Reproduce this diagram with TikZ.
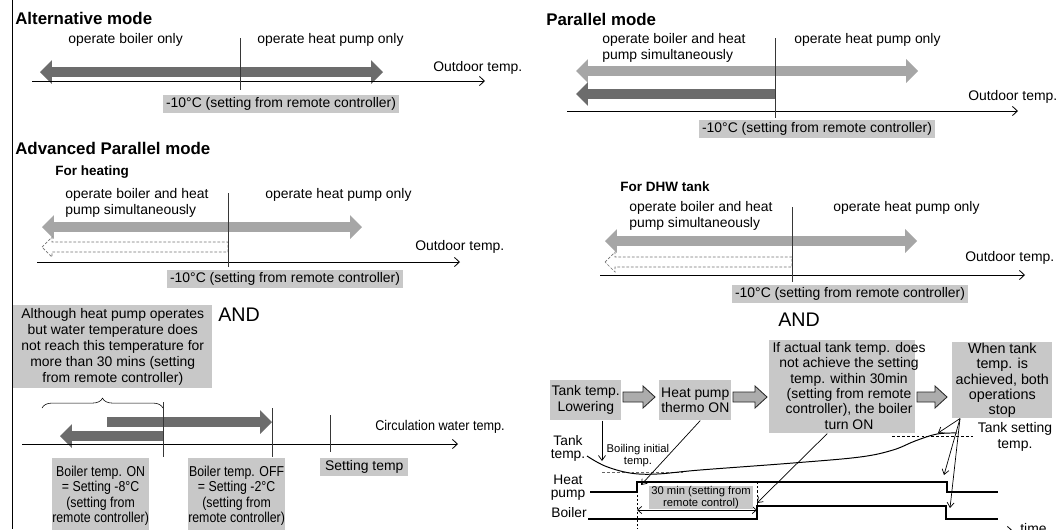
\documentclass[tikz,border=0pt]{standalone}
\usepackage{fontspec}
\setmainfont{Liberation Sans}
\newfontfamily\narrowfont[FakeStretch=0.86]{Liberation Sans}
\newfontfamily\semifont[FakeStretch=0.9]{Liberation Sans}
\usepackage{tikz}
\usetikzlibrary{arrows.meta, positioning, calc, decorations.pathreplacing}
\definecolor{tagfill}{RGB}{200,200,200}
\definecolor{bardark}{RGB}{108,108,108}
\definecolor{barlight}{RGB}{166,166,166}
\definecolor{flowfill}{RGB}{172,172,172}
\definecolor{markgray}{RGB}{55,55,55}
\newlength{\pxu}
\setlength{\pxu}{0.025cm}
\tikzset{
  txt/.style={inner sep=0pt, anchor=west, font=\fontsize{9.9}{11.3}\selectfont},
  twoline/.style={txt, align=left},
  modetitle/.style={inner sep=0pt, anchor=west, font=\bfseries\fontsize{12}{14}\selectfont},
  subtitle/.style={inner sep=0pt, anchor=west, font=\bfseries\fontsize{9.6}{11}\selectfont},
  andlabel/.style={inner sep=0pt, anchor=west, font=\fontsize{14}{16}\selectfont},
  settag/.style={fill=tagfill, anchor=north west, inner xsep=2pt, inner ysep=1.6pt,
    font=\fontsize{9.9}{11.3}\selectfont},
  notebox/.style={fill=tagfill, align=center, inner sep=0pt, anchor=north west,
    font=\fontsize{9.9}{11.3}\selectfont},
  narrowbox/.style={notebox, font=\narrowfont\fontsize{10.2}{11.1}\selectfont},
  sidelabel/.style={inner sep=0pt, align=center, font=\fontsize{9.8}{9.2}\selectfont},
  smalllabel/.style={inner sep=0pt, align=center, font=\fontsize{8}{8.5}\selectfont},
  thickbar/.style={line width=7.8pt, >={Triangle[length=8.5pt, width=17pt, line width=0pt]}},
  darkbar/.style={thickbar, draw=bardark},
  lightbar/.style={thickbar, draw=barlight},
  ghostbar/.style={draw=black!55, fill=white, line width=0.5pt, dash pattern=on 2pt off 1.2pt},
  axisline/.style={-{Straight Barb[length=3.5pt, width=6.5pt]}, line width=0.6pt},
  markline/.style={draw=markgray, line width=0.6pt},
  pointer/.style={-{Straight Barb[length=3.5pt, width=5pt]}, line width=0.5pt},
  spanarrow/.style={{Straight Barb[length=3pt, width=5pt]}-{Straight Barb[length=3pt, width=5pt]}, line width=0.5pt},
  sigline/.style={line width=0.9pt},
  levelline/.style={line width=0.6pt, dash pattern=on 2pt off 1.5pt},
  blockarrow/.style={draw=black!85, fill=flowfill, line width=0.6pt, line join=miter}
}

\begin{document}
\begin{tikzpicture}[x=\pxu, y=-\pxu]
\useasboundingbox (0,0) rectangle (1064,529);
\clip (0,0) rectangle (1064,529);

% left frame
\draw[line width=0.6pt] (12,0) -- (12,529);

% Alternative mode
\node[modetitle] (alttitle) at (15,18) {Alternative mode};
\node[txt] (altboil) at (68,40) {operate boiler only};
\node[txt] (althp) at (257,40) {operate heat pump only};
\draw[darkbar, <->] (40,72) -- (383,72);
\draw[axisline] (32,81) -- (485,81);
\node[txt] (altout) at (433,68) {Outdoor temp.};
\draw[markline] (240,38) -- (240,90);
\node[settag] (altset) at (163,95) {-10°C (setting from remote controller)};

% Parallel mode
\node[modetitle] (partitle) at (546,19) {Parallel mode};
\node[twoline] (parboth) at (602,48) {operate boiler and heat\\pump simultaneously};
\node[txt] (parhp) at (794,40) {operate heat pump only};
\draw[lightbar, <->] (576,71) -- (918,71);
\draw[darkbar, <-] (576,94) -- (775,94);
\draw[axisline] (567,111) -- (1018,111);
\node[txt] (parout) at (968,97) {Outdoor temp.};
\draw[markline] (775,38) -- (775,118);
\node[settag] (parset) at (699,120) {-10°C (setting from remote controller)};

% Advanced parallel mode, heating
\node[modetitle] (advtitle) at (15,148) {Advanced Parallel mode};
\node[subtitle] (heattitle) at (55,172) {For heating};
\node[twoline] (heatboth) at (65,203) {operate boiler and heat\\pump simultaneously};
\node[txt] (heathp) at (265,195) {operate heat pump only};
\draw[lightbar, <->] (42,227) -- (362,227);
\draw[axisline] (37,262) -- (460,262);
\node[txt] (heatout) at (415,247) {Outdoor temp.};
\node[settag] (heatset) at (167,270) {-10°C (setting from remote controller)};

% Advanced parallel mode, DHW tank
\node[subtitle] (dhwtitle) at (620,187) {For DHW tank};
\node[twoline] (dhwboth) at (629,216) {operate boiler and heat\\pump simultaneously};
\node[txt] (dhwhp) at (833,208) {operate heat pump only};
\draw[lightbar, <->] (605,241) -- (917,241);
\draw[axisline] (600,275) -- (1025,275);
\node[txt] (dhwout) at (965,258) {Outdoor temp.};
\node[settag] (dhwset) at (732,285) {-10°C (setting from remote controller)};

% dashed boiler bars
\foreach \tipx/\endx/\yy in {42/228/247, 605/792/262}
  \draw[ghostbar] (\tipx,\yy) -- ++(10,-10) -- ++(0,5) -- (\endx,\yy-5) -- (\endx,\yy+5)
    -- (\tipx+10,\yy+5) -- ++(0,5) -- cycle;
\draw[markline] (228,193) -- (228,267);
\draw[markline] (792,207) -- (792,282);

% circulation water condition
\node[andlabel] (andleft) at (218,315) {AND};
\node[notebox, minimum width=199\pxu, minimum height=83\pxu] (nowarm) at (13,305)
  {Although heat pump operates\\but water temperature does\\not reach this temperature for\\more than 30 mins (setting\\from remote controller)};
\draw[decorate, decoration={brace, amplitude=7pt}] (42,408) -- (163,408);
\draw[darkbar, ->] (107,422) -- (272,422);
\draw[darkbar, <-] (60,436) -- (163,436);
\draw[axisline] (22,444) -- (458,444);
\draw[markline] (163,402) -- (163,457);
\draw[markline] (272,408) -- (272,457);
\draw[markline] (330,415) -- (330,452);
\node[txt, font=\semifont\fontsize{10}{11}\selectfont] (circ) at (375,427) {Circulation water temp.};
\node[narrowbox, minimum width=91\pxu, minimum height=75\pxu] (boilon) at (52,458)
  {Boiler temp. ON\\= Setting -8°C\\(setting from\\remote controller)};
\node[narrowbox, minimum width=94\pxu, minimum height=75\pxu] (boiloff) at (188,458)
  {Boiler temp. OFF\\= Setting -2°C\\(setting from\\remote controller)};
\node[settag, inner xsep=3.5pt] (settemp) at (320,458) {Setting temp};

% DHW tank sequence
\node[andlabel] (andright) at (778,320) {AND};
\node[notebox, minimum width=71\pxu, minimum height=40\pxu] (tlow) at (550,380) {Tank temp.\\Lowering};
\node[notebox, minimum width=72\pxu, minimum height=40\pxu] (hpon) at (659,380) {Heat pump\\thermo ON};
\node[notebox, minimum width=146\pxu, minimum height=93\pxu] (ifbox) at (769,340) {};
\node[inner sep=0pt, align=center, font=\fontsize{9.9}{10.9}\selectfont] (iftext) at (849,386)
  {If actual tank temp. does\\not achieve the setting\\temp. within 30min\\(setting from remote\\controller), the boiler\\turn ON};
\node[notebox, minimum width=100\pxu, minimum height=76\pxu, font=\fontsize{10.2}{10.9}\selectfont] (whenbox) at (952,342)
  {When tank\\temp. is\\achieved, both\\operations\\stop};
\foreach \ax/\bx in {623/655, 733/767, 917/947}
  \draw[blockarrow] (\ax,392) -- (\bx-12,392) -- (\bx-12,386) -- (\bx,397) -- (\bx-12,408)
    -- (\bx-12,402) -- (\ax,402) -- cycle;

% timing chart
\node[sidelabel] (tanklbl) at (568,448) {Tank\\temp.};
\node[sidelabel] (hplbl) at (568,488) {Heat\\pump};
\node[sidelabel] (boillbl) at (569,513) {Boiler};
\node[smalllabel] (boilinit) at (638,456) {Boiling initial\\temp.};
\node[inner sep=0pt, align=center, font=\fontsize{9.9}{11}\selectfont] (tankset) at (1015,437) {Tank setting\\temp.};
\draw[levelline, draw=black!60] (602,472) -- (683,472);
\draw[levelline] (892,436) -- (973,436);
\draw[line width=0.7pt] plot[smooth, tension=0.6] coordinates
  {(587,456) (605,466) (630,473) (657,474) (700,470) (793,463) (860,457) (893,450) (915,441) (937,434) (957,433)};
\draw[sigline] (590,492) -- (637,492) -- (637,482) -- (947,482) -- (947,492) -- (998,492);
\draw[sigline] (588,519) -- (757,519) -- (757,506) -- (946,506) -- (946,519) -- (998,519);
\draw[line width=0.5pt, dash pattern=on 1.5pt off 1.5pt] (637,482) -- (637,529);
\draw[line width=0.5pt, dash pattern=on 1.5pt off 1.5pt] (757,482) -- (757,506);
\coordinate (hpstart) at (637,510);
\coordinate (boilstart) at (757,510);
\draw[spanarrow] (hpstart) -- (boilstart);
\node[fill=tagfill, align=center, inner sep=0pt, minimum width=104\pxu, minimum height=21\pxu,
  font=\fontsize{8}{7}\selectfont] (thirty) at (701,497.5) {30 min (setting from\\remote control)};
\draw[axisline] (637,531) -- (1013,531);
\node[txt] (timelbl) at (1020,529) {time};

% pointers from the boxes
\coordinate (dipmark) at (602,461);
\coordinate (hprise) at (641,485);
\coordinate (boilrise) at (757,503);
\coordinate (reachset) at (938,433);
\coordinate (hpfall) at (944,475);
\coordinate (boilfall) at (950,508);
\draw[pointer] (tlow.south -| dipmark) -- (dipmark);
\draw[pointer] ($(hpon.south)+(5,0)$) -- (hprise);
\draw[pointer] ($(ifbox.south)+(-15,0)$) -- (boilrise);
\foreach \tgt in {reachset, hpfall, boilfall}
  \draw[pointer] ($(whenbox.south west)+(8,0)$) -- (\tgt);

\end{tikzpicture}
\end{document}
